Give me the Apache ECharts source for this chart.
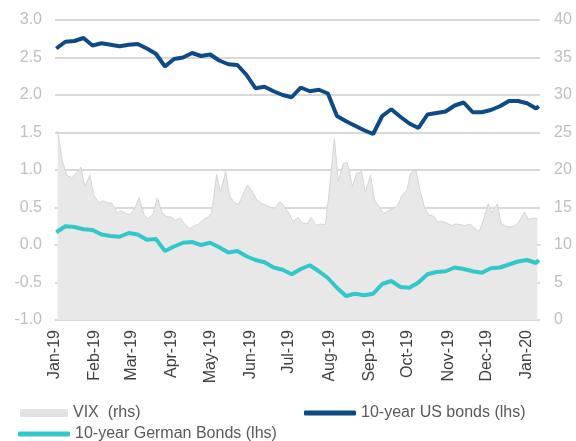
<!DOCTYPE html>
<html>
<head>
<meta charset="utf-8">
<script src="https://cdn.jsdelivr.net/npm/echarts@6/dist/echarts.min.js"></script>
<style>
  html, body { margin: 0; padding: 0; background: #fff; }
  #chart { width: 576px; height: 441px; }
</style>
</head>
<body>
<div id="chart"></div>
<script>
// weekly bond observations (Wednesdays), last one Jan 10 2020
var dates = [
  '2019-01-02','2019-01-09','2019-01-16','2019-01-23','2019-01-30',
  '2019-02-06','2019-02-13','2019-02-20','2019-02-27',
  '2019-03-06','2019-03-13','2019-03-20','2019-03-27',
  '2019-04-03','2019-04-10','2019-04-17','2019-04-24',
  '2019-05-01','2019-05-08','2019-05-15','2019-05-22','2019-05-29',
  '2019-06-05','2019-06-12','2019-06-19','2019-06-26',
  '2019-07-03','2019-07-10','2019-07-17','2019-07-24','2019-07-31',
  '2019-08-07','2019-08-14','2019-08-21','2019-08-28',
  '2019-09-04','2019-09-11','2019-09-18','2019-09-25',
  '2019-10-02','2019-10-09','2019-10-16','2019-10-23','2019-10-30',
  '2019-11-06','2019-11-13','2019-11-20','2019-11-27',
  '2019-12-04','2019-12-11','2019-12-18','2019-12-25',
  '2020-01-01','2020-01-08','2020-01-10'
];
var usBonds = [
  2.62, 2.71, 2.72, 2.76, 2.66,
  2.69, 2.67, 2.65, 2.67,
  2.68, 2.62, 2.55, 2.38,
  2.48, 2.50, 2.56, 2.52,
  2.54, 2.46, 2.41, 2.40, 2.27,
  2.09, 2.11, 2.05, 2.00,
  1.97, 2.10, 2.05, 2.07, 2.02,
  1.72, 1.65, 1.59, 1.53,
  1.48, 1.72, 1.81, 1.71,
  1.62, 1.56, 1.74, 1.76, 1.78,
  1.86, 1.90, 1.77, 1.77,
  1.80, 1.85, 1.92, 1.92,
  1.89, 1.82, 1.85
];
var germanBonds = [
  0.17, 0.25, 0.24, 0.21, 0.20,
  0.14, 0.12, 0.11, 0.16,
  0.14, 0.07, 0.08, -0.08,
  -0.02, 0.03, 0.04, 0.00,
  0.03, -0.03, -0.10, -0.08, -0.15,
  -0.20, -0.23, -0.30, -0.33,
  -0.39, -0.32, -0.27, -0.35, -0.44,
  -0.57, -0.68, -0.65, -0.67,
  -0.65, -0.52, -0.48, -0.56,
  -0.57, -0.50, -0.39, -0.36, -0.35,
  -0.30, -0.32, -0.35, -0.37,
  -0.31, -0.30, -0.26, -0.22,
  -0.20, -0.24, -0.20
];
// VIX twice a week (Mon / Thu)
var vixDates = [
  '2019-01-03','2019-01-07','2019-01-10','2019-01-14','2019-01-17','2019-01-21','2019-01-24','2019-01-28','2019-01-31',
  '2019-02-04','2019-02-07','2019-02-11','2019-02-14','2019-02-18','2019-02-21','2019-02-25','2019-02-28',
  '2019-03-04','2019-03-07','2019-03-11','2019-03-14','2019-03-18','2019-03-21','2019-03-25','2019-03-28',
  '2019-04-01','2019-04-04','2019-04-08','2019-04-11','2019-04-15','2019-04-18','2019-04-22','2019-04-25',
  '2019-04-29','2019-05-02','2019-05-06','2019-05-09','2019-05-13','2019-05-16','2019-05-20','2019-05-23',
  '2019-05-27','2019-05-30','2019-06-03','2019-06-06','2019-06-10','2019-06-13','2019-06-17','2019-06-20',
  '2019-06-24','2019-06-27','2019-07-01','2019-07-04','2019-07-08','2019-07-11','2019-07-15','2019-07-18',
  '2019-07-22','2019-07-25','2019-07-29','2019-08-01','2019-08-05','2019-08-08','2019-08-12','2019-08-15',
  '2019-08-19','2019-08-22','2019-08-26','2019-08-29','2019-09-02','2019-09-05','2019-09-09','2019-09-12',
  '2019-09-16','2019-09-19','2019-09-23','2019-09-26','2019-09-30','2019-10-03','2019-10-07','2019-10-10',
  '2019-10-14','2019-10-17','2019-10-21','2019-10-24','2019-10-28','2019-10-31','2019-11-04','2019-11-07',
  '2019-11-11','2019-11-14','2019-11-18','2019-11-21','2019-11-25','2019-11-28','2019-12-02','2019-12-05',
  '2019-12-09','2019-12-12','2019-12-16','2019-12-19','2019-12-23','2019-12-26','2019-12-30','2020-01-02',
  '2020-01-06','2020-01-09'
];
var vix = [
  25.2, 21.0, 19.3, 19.0, 19.5, 20.4, 17.8, 19.3, 16.6,
  15.6, 15.9, 15.6, 15.6, 14.3, 14.6, 14.2, 14.0,
  15.0, 16.3, 14.0, 13.5, 14.2, 16.3, 14.2, 13.8,
  13.7, 13.3, 13.6, 12.8, 12.2, 12.5, 12.8, 13.3,
  13.7, 14.2, 19.4, 17.0, 19.8, 16.5, 15.6, 15.4,
  17.0, 18.0, 17.0, 16.0, 15.5, 15.3, 15.0, 14.9,
  15.8, 15.2, 14.2, 13.1, 13.7, 13.0, 12.8, 13.7,
  12.6, 12.8, 12.7, 17.0, 24.2, 18.5, 20.9, 21.0,
  17.8, 19.5, 19.8, 17.0, 19.3, 16.0, 15.0, 14.2,
  14.6, 14.8, 15.3, 16.5, 17.3, 19.6, 20.0, 17.5,
  14.8, 14.0, 13.8, 13.1, 13.1, 12.9, 12.6, 12.8,
  12.7, 12.6, 12.8, 12.3, 11.8, 13.2, 15.5, 14.3,
  15.5, 12.8, 12.5, 12.4, 12.6, 13.2, 14.4, 13.4,
  13.6, 13.5
];
var monthNames = ['Jan','Feb','Mar','Apr','May','Jun','Jul','Aug','Sep','Oct','Nov','Dec'];

function pairs(xs, vals) {
  var out = [];
  for (var i = 0; i < vals.length; i++) out.push([xs[i], vals[i]]);
  return out;
}

var chart = echarts.init(document.getElementById('chart'));
var font = 'Liberation Sans, Arial, sans-serif';

var option = {
  animation: false,
  grid: { left: 55, right: 36, top: 20, bottom: 121 },
  xAxis: {
    type: 'time',
    min: '2019-01-01',
    max: '2020-01-11',
    splitNumber: 12,
    minInterval: 28 * 86400000,
    maxInterval: 31 * 86400000,
    axisLine: { show: true, lineStyle: { color: '#d9d9d9', width: 2 } },
    axisTick: { show: false },
    splitLine: { show: false },
    axisLabel: {
      rotate: 90,
      margin: 10,
      color: '#404040',
      fontSize: 16,
      fontFamily: font,
      formatter: function (val) {
        var d = new Date(val);
        return monthNames[d.getMonth()] + '-' + String(d.getFullYear()).slice(2);
      }
    }
  },
  yAxis: [
    {
      type: 'value',
      min: -1, max: 3, interval: 0.5,
      axisLine: { show: false },
      axisTick: { show: false },
      splitLine: { lineStyle: { color: '#d9d9d9', width: 2 } },
      axisLabel: {
        color: '#bfbfbf', fontSize: 16, fontFamily: font, margin: 13,
        formatter: function (v) { return v.toFixed(1); }
      }
    },
    {
      type: 'value',
      min: 0, max: 40, interval: 5,
      axisLine: { show: false },
      axisTick: { show: false },
      splitLine: { show: false },
      axisLabel: { color: '#bfbfbf', fontSize: 16, fontFamily: font, margin: 14 }
    }
  ],
  legend: [
    {
      data: [{ name: 'VIX  (rhs)', icon: 'rect' }],
      left: 15, top: 400, itemWidth: 48, itemHeight: 8, itemGap: 6,
      textStyle: { color: '#595959', fontSize: 16, fontFamily: font }
    },
    {
      data: [{ name: '10-year US bonds (lhs)', icon: 'roundRect' }],
      left: 299, top: 400, itemWidth: 52, itemHeight: 5, itemGap: 3,
      textStyle: { color: '#595959', fontSize: 16, fontFamily: font }
    },
    {
      data: [{ name: '10-year German Bonds (lhs)', icon: 'roundRect' }],
      left: 13, top: 421, itemWidth: 52, itemHeight: 5, itemGap: 3,
      textStyle: { color: '#595959', fontSize: 16, fontFamily: font }
    }
  ],
  series: [
    {
      name: 'VIX  (rhs)',
      type: 'line',
      yAxisIndex: 1,
      data: pairs(vixDates, vix),
      showSymbol: false,
      itemStyle: { color: '#e3e3e3' },
      lineStyle: { color: '#d4d4d4', width: 1 },
      areaStyle: { color: '#e8e8e8', opacity: 1 }
    },
    {
      name: '10-year US bonds (lhs)',
      type: 'line',
      data: pairs(dates, usBonds),
      showSymbol: false,
      itemStyle: { color: '#0e4a86' },
      lineStyle: { color: '#0e4a86', width: 4 }
    },
    {
      name: '10-year German Bonds (lhs)',
      type: 'line',
      data: pairs(dates, germanBonds),
      showSymbol: false,
      itemStyle: { color: '#33c7c9' },
      lineStyle: { color: '#33c7c9', width: 4 }
    }
  ]
};
chart.setOption(option);
</script>
</body>
</html>
